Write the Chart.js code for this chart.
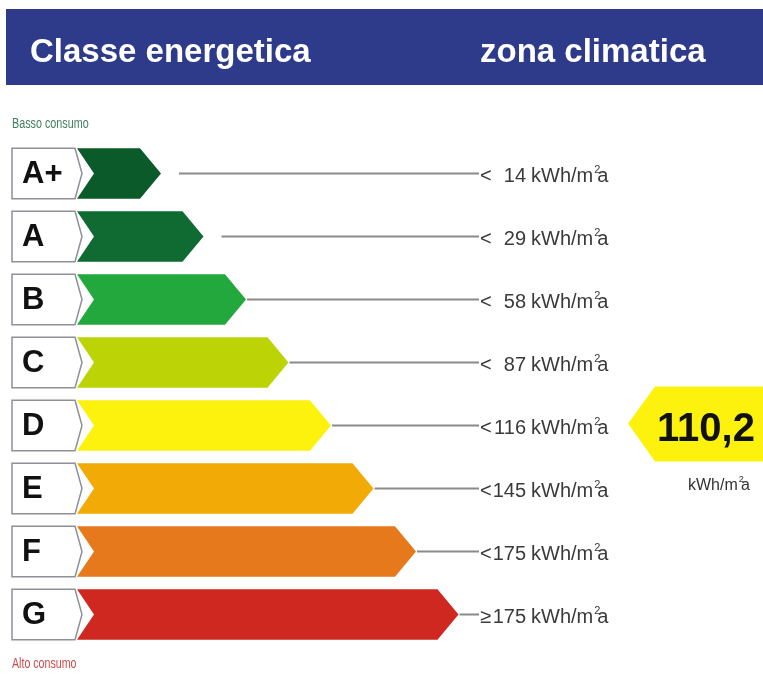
<!DOCTYPE html>
<html>
<head>
<meta charset="utf-8">
<script src="https://cdn.jsdelivr.net/npm/chart.js@4.4.1/dist/chart.umd.min.js"></script>
<style>
  html, body { margin: 0; padding: 0; background: #fff; }
  canvas { display: block; }
</style>
</head>
<body>
<canvas id="label" width="763" height="679"></canvas>
<script>
// energy classes, best to worst
const classes = ['A+', 'A', 'B', 'C', 'D', 'E', 'F', 'G'];
// arrow length of each class (label steps)
const barLengths = [2, 3, 4, 5, 6, 7, 8, 9];
const barColors = ['#0b5a2a', '#0f6b32', '#22a83c', '#bcd406', '#fcf20e', '#f2aa06', '#e6791b', '#ce2820'];
// class limits in kWh/m2a
const limitSigns = ['<', '<', '<', '<', '<', '<', '<', '\u2265'];
const limitValues = ['14', '29', '58', '87', '116', '145', '175', '175'];
// this building
const currentClass = 'D';
const currentValue = '110,2';

const sans = '"Liberation Sans", Arial, sans-serif';

// text squeezed horizontally (no narrow font available)
function narrowText(ctx, text, x, y, size, squeeze) {
    ctx.save();
    ctx.font = size + 'px ' + sans;
    ctx.translate(x, y);
    ctx.scale(squeeze, 1);
    ctx.fillText(text, 0, 0);
    ctx.restore();
}

// kWh/m²a with a small raised 2
function unitText(ctx, x, y, size, squeeze) {
    ctx.save();
    ctx.translate(x, y);
    ctx.scale(squeeze, 1);
    ctx.textAlign = 'left';
    ctx.font = size + 'px ' + sans;
    ctx.fillText('kWh/m', 0, 0);
    const w = ctx.measureText('kWh/m').width;
    ctx.font = Math.round(size * 0.55) + 'px ' + sans;
    ctx.fillText('2', w + 1, -size * 0.45);
    ctx.font = size + 'px ' + sans;
    ctx.fillText('a', w + size * 0.2, 0);
    ctx.restore();
}

// Draws header, arrows, class boxes, limits and the value marker
const labelPlugin = {
    id: 'energyLabel',
    beforeDraw(chart) {
        const ctx = chart.ctx;
        ctx.save();
        ctx.fillStyle = '#2e3a8a';
        ctx.fillRect(6, 9, 757, 76);
        ctx.fillStyle = '#ffffff';
        ctx.font = 'bold 33px ' + sans;
        ctx.textBaseline = 'alphabetic';
        ctx.fillText('Classe energetica', 30, 62);
        ctx.fillText('zona climatica', 480, 62);

        ctx.fillStyle = '#3f7f60';
        narrowText(ctx, 'Basso consumo', 12, 128, 14, 0.77);
        ctx.fillStyle = '#cc4a4a';
        narrowText(ctx, 'Alto consumo', 12, 668, 14, 0.76);
        ctx.restore();
    },
    afterDatasetsDraw(chart) {
        const ctx = chart.ctx;
        const meta = chart.getDatasetMeta(0);
        ctx.save();
        meta.data.forEach((bar, i) => {
            const cy = bar.y;
            const top = cy - bar.height / 2;
            const bot = cy + bar.height / 2;
            const left = bar.base;
            const tip = bar.x;

            // colored arrow
            ctx.beginPath();
            ctx.moveTo(left + 1, top);
            ctx.lineTo(tip - 21, top);
            ctx.lineTo(tip, cy);
            ctx.lineTo(tip - 21, bot);
            ctx.lineTo(left + 1, bot);
            ctx.lineTo(left + 18, cy);
            ctx.closePath();
            ctx.fillStyle = barColors[i];
            ctx.fill();

            // class letter box
            ctx.beginPath();
            ctx.moveTo(12, top);
            ctx.lineTo(left - 1, top);
            ctx.lineTo(left + 6, cy);
            ctx.lineTo(left - 1, bot);
            ctx.lineTo(12, bot);
            ctx.closePath();
            ctx.fillStyle = '#ffffff';
            ctx.fill();
            ctx.lineWidth = 1.5;
            ctx.strokeStyle = '#8f8f9a';
            ctx.stroke();

            ctx.fillStyle = '#111';
            ctx.font = 'bold 31px ' + sans;
            ctx.textBaseline = 'middle';
            ctx.textAlign = 'left';
            ctx.fillText(classes[i], 22, cy + 1);

            // leader line to the limit (short arrows leave a gap)
            ctx.beginPath();
            ctx.moveTo(tip + (i < 2 ? 18 : 1), cy);
            ctx.lineTo(479, cy);
            ctx.lineWidth = 2;
            ctx.strokeStyle = '#8a8a8a';
            ctx.stroke();

            // limit text
            ctx.fillStyle = '#3a3a3a';
            ctx.textBaseline = 'alphabetic';
            const base = cy + 8;
            ctx.font = '20px ' + sans;
            ctx.textAlign = 'left';
            ctx.fillText(limitSigns[i], 480, base);
            ctx.textAlign = 'right';
            ctx.fillText(limitValues[i], 526, base);
            unitText(ctx, 531, base, 20, 1.0);
        });

        // marker with the building value
        const idx = classes.indexOf(currentClass);
        const my = chart.scales.y.getPixelForValue(idx);
        ctx.beginPath();
        ctx.moveTo(628, my - 2);
        ctx.lineTo(655, my - 39);
        ctx.lineTo(763, my - 39);
        ctx.lineTo(763, my + 36);
        ctx.lineTo(655, my + 36);
        ctx.closePath();
        ctx.fillStyle = barColors[idx];
        ctx.fill();

        ctx.fillStyle = '#111';
        ctx.font = 'bold 40px ' + sans;
        ctx.textAlign = 'center';
        ctx.textBaseline = 'alphabetic';
        ctx.fillText(currentValue, 706, my + 15);

        ctx.fillStyle = '#333';
        unitText(ctx, 688, my + 64, 16, 1.0);
        ctx.restore();
    }
};

new Chart(document.getElementById('label'), {
    type: 'bar',
    data: {
        labels: classes,
        datasets: [{
            data: barLengths,
            backgroundColor: 'rgba(0,0,0,0)',
            borderWidth: 0,
            barPercentage: 0.8,
            categoryPercentage: 1
        }]
    },
    options: {
        indexAxis: 'y',
        responsive: false,
        devicePixelRatio: 1,
        animation: false,
        layout: {
            padding: { left: 76, right: 7, top: 142, bottom: 33 }
        },
        scales: {
            x: { type: 'linear', min: 0, max: 16, display: false },
            y: { display: false }
        },
        plugins: {
            legend: { display: false },
            tooltip: { enabled: false }
        }
    },
    plugins: [labelPlugin]
});
</script>
</body>
</html>
